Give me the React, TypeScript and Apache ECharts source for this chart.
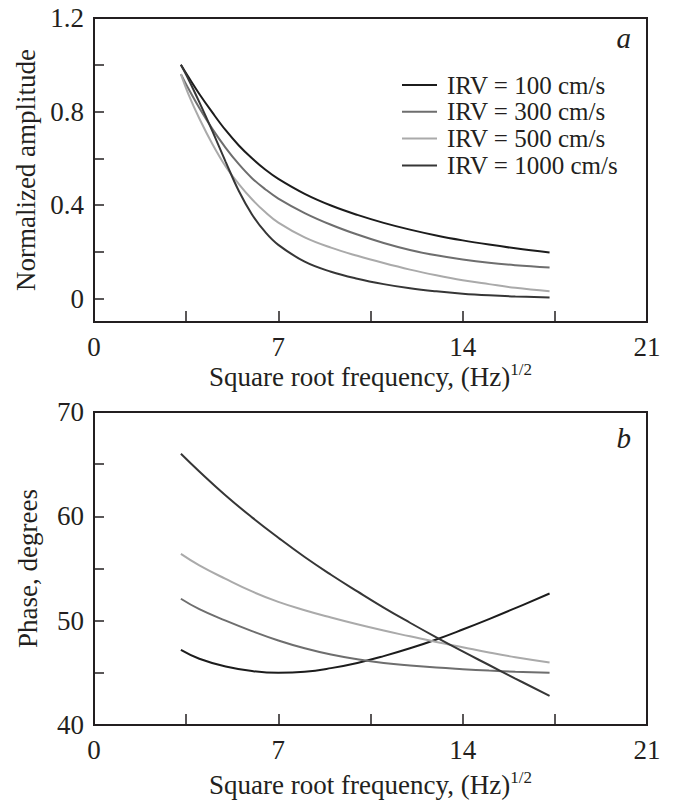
import React, { useEffect, useRef } from "react";
import * as echarts from "echarts";

// ---------- data ----------
const seriesNames = ["IRV = 100 cm/s", "IRV = 300 cm/s", "IRV = 500 cm/s", "IRV = 1000 cm/s"];
const seriesColors = ["#1c1c1c", "#6e6e6e", "#aaaaaa", "#363636"];

// panel a: normalized amplitude
const xAmp = [3.3, 3.6, 4.0, 4.5, 5.0, 5.5, 6.0, 6.5, 7.0, 8.0, 9.0, 10.0, 11.0, 12.0, 13.0, 14.0, 15.0, 16.0, 17.3];
const amp100 = [1.0, 0.945, 0.875, 0.795, 0.72, 0.655, 0.6, 0.552, 0.512, 0.448, 0.398, 0.358, 0.324, 0.295, 0.27, 0.249, 0.231, 0.215, 0.197];
const amp300 = [0.96, 0.895, 0.815, 0.725, 0.645, 0.575, 0.515, 0.468, 0.428, 0.366, 0.316, 0.274, 0.238, 0.208, 0.185, 0.167, 0.153, 0.143, 0.133];
const amp500 = [0.96, 0.87, 0.77, 0.66, 0.565, 0.49, 0.425, 0.37, 0.325, 0.262, 0.218, 0.183, 0.152, 0.124, 0.1, 0.079, 0.062, 0.046, 0.031];
const amp1000 = [1.0, 0.935, 0.84, 0.715, 0.585, 0.46, 0.36, 0.285, 0.23, 0.158, 0.115, 0.085, 0.062, 0.044, 0.031, 0.021, 0.014, 0.009, 0.005];

// panel b: phase, degrees
const xPh = [3.3, 4, 5, 6, 7, 8, 9, 10, 11, 12, 13, 14, 15, 16, 17.3];
const ph100 = [47.2, 46.35, 45.6, 45.17, 45.0, 45.1, 45.45, 45.95, 46.6, 47.35, 48.2, 49.15, 50.15, 51.2, 52.6];
const ph300 = [52.1, 51.1, 50.0, 49.0, 48.1, 47.35, 46.75, 46.3, 45.95, 45.7, 45.5, 45.35, 45.22, 45.11, 45.0];
const ph500 = [56.4, 55.3, 54.0, 52.8, 51.8, 51.0, 50.3, 49.65, 49.05, 48.5, 47.95, 47.45, 46.95, 46.5, 46.0];
const ph1000 = [66.0, 64.3, 62.0, 59.9, 57.95, 56.1, 54.4, 52.8, 51.25, 49.8, 48.4, 47.05, 45.75, 44.45, 42.8];

// ticks / labels
const ampTicks = [0, 0.2, 0.4, 0.6, 0.8, 1.0, 1.2];
const ampLabels = [0, 0.4, 0.8, 1.2];
const xLabelStep = 7;
const phLabelStep = 10;

const FONT = '"Liberation Serif", "Times New Roman", serif';
const AX = "#231f20";

export default function App() {
  const ref = useRef<HTMLDivElement>(null);

  useEffect(() => {
    if (!ref.current) return;
    const chart = echarts.init(ref.current, null, { renderer: "svg" });

    const ampData = [amp100, amp300, amp500, amp1000];
    const phData = [ph100, ph300, ph500, ph1000];

    const labelStyle = { fontSize: 27, fontFamily: FONT, color: AX };
    const xName = "{a|Square root frequency, (Hz)}{b|1/2}";
    const xNameStyle = {
      rich: {
        a: { fontSize: 27, fontFamily: FONT, color: AX, lineHeight: 32 },
        b: { fontSize: 17, fontFamily: FONT, color: AX, lineHeight: 17, verticalAlign: "top" },
      },
    };

    const makeX = (gridIndex: number, gap: number) => ({
      gridIndex,
      type: "value",
      min: 0,
      max: 21,
      interval: 3.5,
      axisLine: { onZero: false, lineStyle: { color: AX, width: 2 } },
      axisTick: { inside: true, length: 11, lineStyle: { color: AX, width: 1.5 } },
      axisLabel: {
        ...labelStyle,
        margin: 11,
        formatter: (v: number) => (Math.abs(v % xLabelStep) < 1e-9 ? String(v) : ""),
      },
      splitLine: { show: false },
      name: xName,
      nameLocation: "middle",
      nameGap: gap,
      nameTextStyle: xNameStyle,
    });

    const series: any[] = [];
    seriesNames.forEach((name, k) => {
      series.push({
        name,
        type: "line",
        xAxisIndex: 0,
        yAxisIndex: 0,
        symbol: "none",
        smooth: 0.4,
        lineStyle: { color: seriesColors[k], width: 2 },
        itemStyle: { color: seriesColors[k] },
        data: xAmp.map((x, i) => [x, ampData[k][i]]),
      });
    });
    seriesNames.forEach((name, k) => {
      series.push({
        name,
        type: "line",
        xAxisIndex: 1,
        yAxisIndex: 1,
        symbol: "none",
        smooth: 0.45,
        lineStyle: { color: seriesColors[k], width: 2 },
        itemStyle: { color: seriesColors[k] },
        data: xPh.map((x, i) => [x, phData[k][i]]),
      });
    });

    chart.setOption({
      animation: false,
      backgroundColor: "#ffffff",
      grid: [
        { left: 94, top: 18, width: 553, height: 304, show: true, borderColor: AX, borderWidth: 2 },
        { left: 94, top: 412, width: 553, height: 313, show: true, borderColor: AX, borderWidth: 2 },
      ],
      legend: {
        data: seriesNames,
        orient: "vertical",
        left: 402,
        top: 72.5,
        padding: 0,
        icon: "rect",
        itemWidth: 35,
        itemHeight: 2,
        itemGap: 1.8,
        selectedMode: false,
        textStyle: { fontSize: 25, fontFamily: FONT, color: AX, lineHeight: 25, padding: [0, 0, 0, 5] },
      },
      xAxis: [makeX(0, 38), makeX(1, 44)],
      yAxis: [
        {
          gridIndex: 0,
          type: "value",
          min: -0.1,
          max: 1.2,
          axisLine: { lineStyle: { color: AX, width: 2 } },
          axisTick: { inside: true, length: 10, customValues: ampTicks, lineStyle: { color: AX, width: 1.5 } },
          axisLabel: { ...labelStyle, margin: 10, customValues: ampLabels },
          splitLine: { show: false },
          name: "Normalized amplitude",
          nameLocation: "middle",
          nameGap: 53,
          nameTextStyle: { fontSize: 27, fontFamily: FONT, color: AX },
        },
        {
          gridIndex: 1,
          type: "value",
          min: 40,
          max: 70,
          interval: 5,
          axisLine: { lineStyle: { color: AX, width: 2 } },
          axisTick: { inside: true, length: 10, lineStyle: { color: AX, width: 1.5 } },
          axisLabel: {
            ...labelStyle,
            margin: 10,
            formatter: (v: number) => (v % phLabelStep === 0 ? String(v) : ""),
          },
          splitLine: { show: false },
          name: "Phase, degrees",
          nameLocation: "middle",
          nameGap: 53,
          nameTextStyle: { fontSize: 27, fontFamily: FONT, color: AX },
        },
      ],
      graphic: [
        {
          type: "text",
          x: 631,
          y: 38,
          style: { text: "a", fontSize: 29, fontStyle: "italic", fontFamily: FONT, fill: AX, align: "right", verticalAlign: "middle" },
        },
        {
          type: "text",
          x: 631,
          y: 438,
          style: { text: "b", fontSize: 29, fontStyle: "italic", fontFamily: FONT, fill: AX, align: "right", verticalAlign: "middle" },
        },
      ],
      series,
    });

    return () => chart.dispose();
  }, []);

  return (
    <div
      ref={ref}
      style={{ position: "fixed", left: 0, top: 0, width: 674, height: 805, background: "#fff" }}
    />
  );
}
